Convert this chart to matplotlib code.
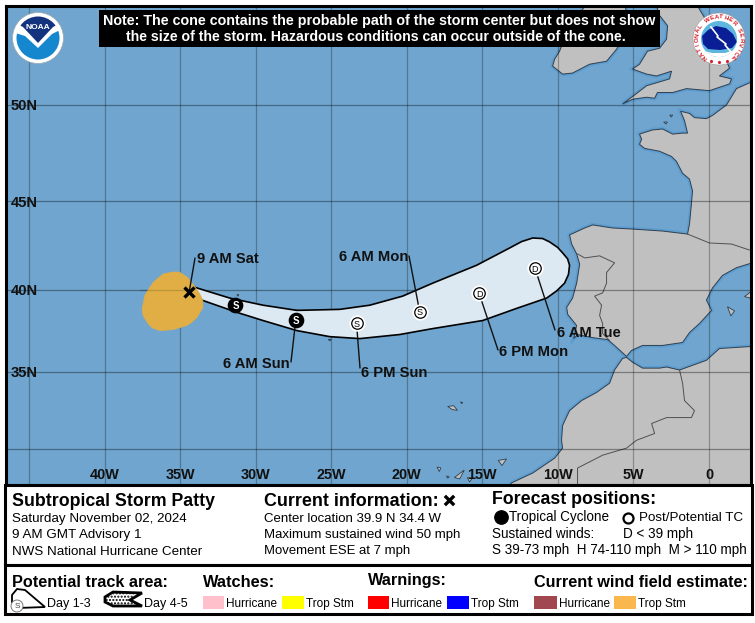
import numpy as np
import matplotlib
matplotlib.use('Agg')
import matplotlib.pyplot as plt
from matplotlib.patches import Circle, Polygon, Rectangle

plt.rcParams['font.family'] = ['Liberation Sans', 'DejaVu Sans']
plt.rcParams['hatch.linewidth'] = 1.0

# Map colours
OCEAN = '#6fa5ce'
LAND = '#c0c0c0'
CONE = '#dce8f2'
GOLD = '#e0ae45'

# Current position and forecast points (lon, lat)
center_lon, center_lat = -34.4, 39.9
fcst_lon = [-31.34, -27.35, -23.33, -19.15, -15.22, -11.52]
fcst_lat = [39.1, 38.2, 38.0, 38.7, 39.8, 41.27]
fcst_type = ['S', 'S', 'S', 'S', 'D', 'D']
fcst_tropical = [True, True, False, False, False, False]

# Forecast cone outline
cone_lon = [-34.15, -31.71, -29.52, -27.28, -24.44, -22.45, -20.27, -18.29, -15.38, -13.19, -12.4, -11.67,
            -11.01, -10.55, -10.02, -9.69, -9.36, -9.23, -9.30, -9.56, -10.08, -10.75, -12.73, -14.98, -18.29,
            -20.47, -23.11, -25.10, -27.28, -29.52, -31.24, -33.56]
cone_lat = [40.18, 39.51, 39.09, 38.78, 38.84, 39.09, 39.63, 40.39, 41.43, 42.42, 42.78, 42.98,
            42.95, 42.76, 42.45, 42.14, 41.8, 41.43, 40.9, 40.39, 39.94, 39.51, 38.90, 38.17, 37.68,
            37.32, 37.07, 37.19, 37.56, 38.17, 38.66, 39.39]

# Tropical storm wind field
wind_lon = [-35.48, -35.05, -34.55, -34.03, -33.70, -33.50, -33.50, -33.90, -34.25, -34.56, -35.48, -36.34, -36.85,
            -37.13, -37.45, -37.52, -37.33, -36.80, -36.14]
wind_lat = [41.04, 41.03, 40.75, 40.18, 39.75, 39.35, 38.95, 38.35, 38.05, 37.87, 37.62, 37.56, 37.72,
            37.99, 38.45, 38.90, 39.70, 40.43, 40.92]

# Coastlines
iberia_lon = [-5.46, -6.25, -6.71, -7.71, -8.70, -8.96, -8.76, -9.35, -9.42, -9.03, -8.76, -8.56, -8.76, -9.09,
              -9.23, -8.23, -7.70, -6.38, -5.06, -3.08, -1.42, -1.29, -1.16, -1.09, -1.29, -1.75, -2.15, -2.48,
              -3.27, -4.27, -4.60, -4.46, -4.60, -3.74, -3.07, -2.41, -1.75, -1.42, -1.62, -1.88, -1.29, -0.96,
              -0.17, 0.23, 1.16, 1.82, 2.68, 3.33, 3.33, 2.68, 1.82, 0.89, 0.23, -0.17, 0.17, -0.63, -1.29,
              -1.75, -3.08, -4.40, -5.13]
iberia_lat = [35.97, 36.65, 37.01, 37.13, 37.32, 37.07, 37.87, 38.54, 38.96, 39.51, 40.39, 41.49, 42.08, 42.64,
              43.15, 43.54, 43.71, 43.54, 43.48, 43.37, 43.20, 43.76, 44.89, 45.57, 46.20, 46.51, 47.13, 47.39,
              47.66, 47.81, 48.02, 48.28, 48.54, 48.75, 48.80, 48.54, 48.59, 48.59, 49.22, 49.69, 49.58, 49.37,
              49.32, 49.48, 50.00, 50.80, 51.08, 51.08, 41.63, 41.52, 41.29, 40.84, 40.11, 39.39, 38.78, 37.99,
              37.44, 36.83, 36.65, 36.65, 36.34]
africa_lon = [-5.72, -6.25, -6.58, -7.44, -8.43, -9.23, -9.69, -9.76, -9.69, -10.22, -11.67, -13.06, -13.53,
              3.33, 3.33, 2.68, 0.69, -0.17, -1.95, -2.81, -3.27, -4.40, -5.06, -5.46]
africa_lat = [35.85, 35.12, 34.29, 33.70, 33.18, 32.53, 31.56, 30.59, 30.07, 29.40, 28.40, 27.74, 26.9,
              26.9, 36.58, 36.58, 36.46, 35.73, 35.12, 35.31, 35.24, 35.24, 35.61, 35.91]
britain_lon = [-5.72, -5.06, -4.13, -3.60, -3.41, -2.41, -1.49, 0.03, 1.36, 1.49, 0.69, 1.36, 1.02, 0.69, 0.03,
               -0.76, -0.76, -3.60, -3.47, -3.27, -2.74, -2.81, -3.27, -4.07, -4.60, -5.06, -4.13, -3.47, -2.48,
               -2.61, -4.13, -4.80]
britain_lat = [50.05, 50.28, 50.38, 50.33, 50.61, 50.61, 50.80, 50.70, 51.03, 51.27, 51.41, 51.78, 52.35, 53.05,
               53.75, 54.64, 55.2, 55.2, 54.64, 54.22, 53.75, 53.14, 52.72, 52.58, 51.97, 51.74, 51.50, 51.41,
               51.64, 51.27, 50.94, 50.56]
ireland_lon = [-6.12, -6.78, -7.90, -9.03, -9.69, -10.35, -10.22, -9.89, -9.49, -8.89, -8.23, -8.23, -5.59, -5.39]
ireland_lat = [52.67, 52.11, 51.97, 51.55, 51.50, 51.88, 52.20, 52.58, 53.28, 53.89, 54.64, 55.2, 55.2, 53.52]

# Islands: Azores, Madeira, Canaries, Balearics, Channel Islands
islands = [
    ([-28.87, -28.41, -28.08, -28.54, -28.87], [38.60, 38.54, 38.35, 38.35, 38.48]),
    ([-28.28, -27.88, -28.2], [38.78, 38.66, 38.7]),
    ([-27.4, -27.2, -27.3], [38.8, 38.8, 38.7]),
    ([-31.25, -31.12, -31.18], [39.72, 39.72, 39.62]),
    ([-25.88, -25.5, -25.2, -25.4, -25.7], [37.82, 37.72, 37.85, 37.92, 37.72]),
    ([-25.2, -25.0, -25.1], [37.02, 37.02, 36.93]),
    ([-17.3, -16.9, -16.65, -17.0], [32.8, 32.85, 32.55, 32.6]),
    ([-16.45, -16.3, -16.37], [33.1, 33.05, 32.98]),
    ([-18.0, -17.75, -17.85], [28.8, 28.75, 28.5]),
    ([-17.38, -17.2, -17.3], [28.2, 28.15, 28.05]),
    ([-16.85, -16.2, -16.5], [28.1, 28.6, 28.0]),
    ([-16.0, -15.7, -15.85], [28.1, 28.0, 27.8]),
    ([-13.95, -13.4, -13.7], [29.25, 29.35, 28.9]),
    ([1.22, 1.69, 1.45], [39.0, 38.75, 38.45]),
    ([2.35, 2.78, 2.78], [39.6, 39.9, 39.5]),
    ([-2.6, -2.4, -2.5], [49.5, 49.5, 49.4]),
    ([-3.0, -2.75, -2.85], [49.15, 49.15, 49.05]),
]

# Land borders
border_lines = [
    ([-8.70, -8.23, -7.24, -6.25, -6.78, -6.78, -7.04, -7.57, -7.11, -7.24, -7.04, -7.04, -6.58],
     [42.08, 41.85, 41.97, 41.57, 41.01, 40.39, 39.82, 39.63, 39.09, 38.48, 37.99, 37.38, 36.95]),
    ([-1.42, 0.03, 1.49, 2.68], [43.20, 42.70, 42.64, 42.30]),
    ([-1.95, -1.75, -1.62, -0.96, -1.16, -2.81, -3.80, -3.60, -4.80, -5.46, -7.04, -8.70, -8.70],
     [35.12, 34.29, 33.18, 32.53, 32.08, 32.08, 31.69, 31.04, 30.59, 30.07, 29.60, 28.74, 27.6]),
]

lon_ticks = [-40, -35, -30, -25, -20, -15, -10, -5, 0]
lat_ticks = [50, 45, 40, 35]
grid_lon = [-45, -40, -35, -30, -25, -20, -15, -10, -5, 0]
grid_lat = [50, 45, 40, 35, 30]

note_lines = ['Note: The cone contains the probable path of the storm center but does not show',
              'the size of the storm. Hazardous conditions can occur outside of the cone.']
watch_colors = ['#ffc0cb', '#ffff00', '#ff0000', '#0000ff', '#a0474f', '#f9b74e']
watch_names = ['Hurricane', 'Trop Stm', 'Hurricane', 'Trop Stm', 'Hurricane', 'Trop Stm']
watch_x = [203, 282, 368, 447, 534, 614]
watch_w = [21, 22, 21, 22, 23, 22]


def merc(lat):
    lat = np.radians(np.asarray(lat, dtype=float))
    return np.log(np.tan(np.pi / 4 + lat / 2))


def inv_merc(m):
    return np.degrees(2 * np.arctan(np.exp(np.asarray(m, dtype=float))) - np.pi / 2)


fig = plt.figure(figsize=(7.55, 6.23), dpi=100, facecolor='white')

# Map panel
ax = fig.add_axes([6 / 755, 1 - 485 / 623, 745 / 755, 479 / 623], facecolor=OCEAN, zorder=1)
ax.set_xlim(-46.53, 2.78)
ax.set_yscale('function', functions=(merc, inv_merc))
ax.set_ylim(27.59, 54.64)
ax.set_xticks([])
ax.set_yticks([])
ax.minorticks_off()
for s in ax.spines.values():
    s.set_linewidth(2.2)

land = [(iberia_lon, iberia_lat), (africa_lon, africa_lat), (britain_lon, britain_lat), (ireland_lon, ireland_lat)]
for lons, lats in land:
    ax.fill(lons, lats, facecolor='none', edgecolor='#5c9ccf', lw=3, zorder=1.5)
for lons, lats in land:
    ax.fill(lons, lats, facecolor=LAND, edgecolor='#2f3f4f', lw=0.7, zorder=2)
for lons, lats in islands:
    ax.fill(lons, lats, facecolor=LAND, edgecolor='#2f3f4f', lw=0.6, zorder=2)
for lons, lats in border_lines:
    ax.plot(lons, lats, color='#505050', lw=0.7, zorder=2.1)

for lon in grid_lon:
    ax.axvline(lon, color='#000000', alpha=0.28, lw=0.9, zorder=2.5)
for lat in grid_lat:
    ax.axhline(lat, color='#000000', alpha=0.36, lw=0.9, zorder=2.5)

ax.fill(cone_lon, cone_lat, facecolor=CONE, edgecolor='black', lw=1.2, joinstyle='round', zorder=3)
ax.fill(wind_lon, wind_lat, facecolor=GOLD, edgecolor=GOLD, lw=0.5, joinstyle='round', zorder=3.2)
ax.axhline(40, xmin=0.18, xmax=0.25, color='#000000', alpha=0.15, lw=0.9, zorder=3.3)

# Overlay in figure pixels, for the text and legend layout
ov = fig.add_axes([0, 0, 1, 1], zorder=2)
ov.set_xlim(0, 755)
ov.set_ylim(623, 0)
ov.axis('off')


def label(x, y, s, px, bold=False, color='black', ha='left', **kw):
    ov.text(x, y + 0.36 * px, s, fontsize=px * 0.72, fontweight='bold' if bold else 'normal', color=color,
            ha=ha, va='baseline', **kw)


# Leader lines, drawn from the points out to their labels
leader_end = [None, (291, 362), (360, 368), (409, 256), (498, 350), (555, 330)]
for i in range(len(fcst_lon)):
    if leader_end[i] is not None:
        ax.annotate('', xy=(fcst_lon[i], fcst_lat[i]), xytext=leader_end[i], textcoords=ov.transData,
                    arrowprops=dict(arrowstyle='-', lw=1.0, color='#111111', shrinkA=0, shrinkB=0), zorder=4)
ax.annotate('', xy=(center_lon, center_lat), xytext=(195, 258), textcoords=ov.transData,
            arrowprops=dict(arrowstyle='-', lw=1.0, color='#111111', shrinkA=0, shrinkB=0), zorder=4)

# Forecast points
for i in range(len(fcst_lon)):
    if fcst_tropical[i]:
        ax.scatter(fcst_lon[i], fcst_lat[i], s=105, color='black', zorder=6)
        ax.text(fcst_lon[i], fcst_lat[i], fcst_type[i], color='white', fontsize=7, fontweight='bold',
                ha='center', va='center_baseline', zorder=7)
    else:
        ax.scatter(fcst_lon[i], fcst_lat[i], s=115, color='white', zorder=6)
        ax.scatter(fcst_lon[i], fcst_lat[i], s=68, facecolor='white', edgecolor='black', lw=0.9, zorder=6.5)
        ax.text(fcst_lon[i], fcst_lat[i], fcst_type[i], color='black', fontsize=6.5, ha='center',
                va='center_baseline', zorder=7)
ax.scatter(center_lon, center_lat, marker='x', s=52, color='black', lw=2.4, zorder=8)

# Axis labels sit inside the map
for lon in lon_ticks:
    ax.text(lon, 28.34, '0' if lon == 0 else f'{-lon}W', fontsize=10.4, fontweight='bold', color='#111111',
            ha='center', va='center_baseline', zorder=9)
for lat in lat_ticks:
    ax.text(-46.2, lat, f'{lat}N', fontsize=10.6, fontweight='bold', color='#111111', ha='left',
            va='center_baseline', zorder=9)

# Point labels
label(197, 258, '9 AM Sat', 14.8, True, color='#111111')
label(408, 256, '6 AM Mon', 14.8, True, color='#111111', ha='right')
label(290, 363, '6 AM Sun', 14.8, True, color='#111111', ha='right')
label(361, 372, '6 PM Sun', 14.8, True, color='#111111')
label(499, 351, '6 PM Mon', 14.8, True, color='#111111')
label(557, 332, '6 AM Tue', 14.8, True, color='#111111')

# Note box
ov.add_patch(Rectangle((99, 10), 561, 37, facecolor='black', edgecolor='none'))
label(379, 20, note_lines[0], 14.2, True, color='white', ha='center')
label(375.5, 36, note_lines[1], 14.15, True, color='white', ha='center')

# NOAA logo
ov.add_patch(Circle((38, 38), 25.5, facecolor='white', edgecolor='#9aa7b0', lw=0.5))
noaa_disc = Circle((38, 38), 21.5, facecolor='white', edgecolor='none')
ov.add_patch(noaa_disc)
top = Polygon([(12, 12), (64, 12), (64, 21), (53, 27), (38, 43), (23, 27), (12, 21)], facecolor='#14337f', edgecolor='none')
ov.add_patch(top)
top.set_clip_path(noaa_disc)
low = Polygon([(12, 32), (25, 36), (38, 48), (52, 34), (64, 28), (64, 64), (12, 64)], facecolor='#1487cf', edgecolor='none')
ov.add_patch(low)
low.set_clip_path(noaa_disc)
ov.text(38, 27.5, 'NOAA', color='white', fontsize=6, fontweight='bold', ha='center', va='center')

# NWS logo
ov.add_patch(Circle((719, 39), 26, facecolor='white', edgecolor='#999999', lw=0.4))
nws_disc = Circle((719, 39), 18, facecolor='#5fb7e0', edgecolor='none')
ov.add_patch(nws_disc)
cloud = Polygon([(703, 44), (702, 36), (708, 30), (716, 26), (726, 28), (733, 34), (737, 42), (732, 48), (720, 50), (708, 49)],
                facecolor='#0a1f96', edgecolor='none')
ov.add_patch(cloud)
cloud.set_clip_path(nws_disc)
ov.plot([711, 718, 717, 726, 725, 731], [27, 36, 37, 44, 45, 52], color='white', lw=1.2)
band = Polygon([(700, 50), (712, 53), (725, 53), (738, 49), (737, 53), (722, 58), (705, 55)], facecolor='white', edgecolor='none')
ov.add_patch(band)
band.set_clip_path(nws_disc)
nws_text = 'NATIONAL WEATHER SERVICE'
for i, ch in enumerate(nws_text):
    ang = np.radians(232 - i * (284 / (len(nws_text) - 1)))
    ov.text(719 + 22 * np.cos(ang), 39 - 22 * np.sin(ang), ch, color='#d81e2c', fontsize=4.4, fontweight='bold',
            ha='center', va='center', rotation=np.degrees(ang) - 90)
ov.scatter([711, 719, 727], [61, 62, 61], s=2, color='#d81e2c', marker='*')

# Info panels
ov.add_patch(Rectangle((5, 485), 747, 80, facecolor='white', edgecolor='black', lw=2.2))
ov.add_patch(Rectangle((5, 565), 747, 49, facecolor='white', edgecolor='black', lw=2.2))

label(12, 500, 'Subtropical Storm Patty', 17.8, True)
label(12, 517, 'Saturday November 02, 2024', 13.45)
label(12, 533, '9 AM GMT Advisory 1', 13.45)
label(12, 550, 'NWS National Hurricane Center', 13.45)

label(264, 500, 'Current information:', 17.9, True)
ov.scatter(449, 500, marker='x', s=45, color='black', lw=2.4)
label(264, 517, 'Center location 39.9 N 34.4 W', 13.2)
label(264, 533, 'Maximum sustained wind 50 mph', 13.2)
label(264, 549, 'Movement ESE at 7 mph', 13.1)

label(492, 498, 'Forecast positions:', 17.8, True)
ov.scatter(501, 517, s=92, color='black')
label(509, 516, 'Tropical Cyclone', 13.5)
ov.scatter(628, 517.5, s=52, facecolor='white', edgecolor='black', lw=1.6)
label(639, 516, 'Post/Potential TC', 13.4)
label(492, 533, 'Sustained winds:', 13.5)
label(623, 533, 'D < 39 mph', 13.5)
label(492, 549, 'S 39-73 mph  H 74-110 mph  M > 110 mph', 13.5)

label(12, 581, 'Potential track area:', 16.2, True)
label(203, 581, 'Watches:', 16.4, True)
label(368, 579, 'Warnings:', 16.2, True)
label(534, 581, 'Current wind field estimate:', 16.2, True)

# Track area icons
ov.add_patch(Polygon([(12, 595), (17, 589), (25, 590), (45, 607), (18, 608), (12, 602)], facecolor='white', edgecolor='black', lw=1.3))
ov.add_patch(Circle((17, 606), 6, facecolor='white', edgecolor='#666666', lw=0.6))
ov.text(17, 606, 'S', fontsize=6, color='#444444', ha='center', va='center')
label(47, 602, 'Day 1-3', 12.5)
ov.add_patch(Polygon([(105, 597), (113, 592), (142, 593), (130, 600), (142, 606), (113, 606), (105, 602)],
                     facecolor='white', edgecolor='black', lw=2, hatch='.....'))
label(144, 602, 'Day 4-5', 12.5)

for x, w, c, name in zip(watch_x, watch_w, watch_colors, watch_names):
    ov.add_patch(Rectangle((x, 596), w, 13, facecolor=c, edgecolor='none'))
    label(x + w + 2, 602.5, name, 11.7)

fig.savefig('out.png', dpi=100)
